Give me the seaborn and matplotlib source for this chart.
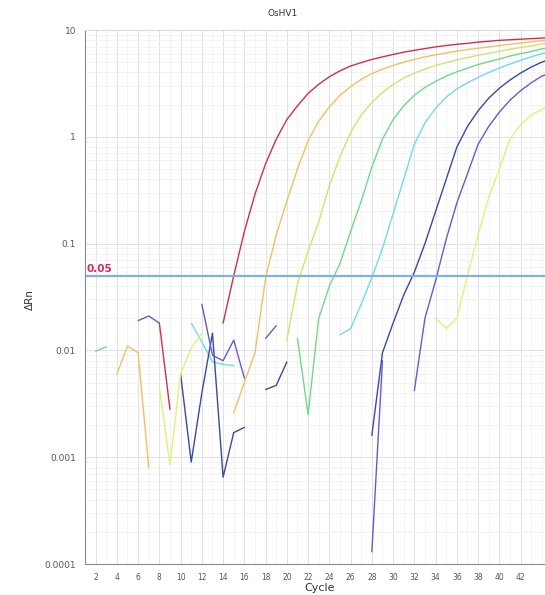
import matplotlib
matplotlib.use("Agg")
import matplotlib.pyplot as plt
from matplotlib.ticker import MultipleLocator, LogLocator, NullFormatter
import pandas as pd
import seaborn as sns

# (cycle, dRn) pairs; negative values are not shown on a log axis,
# so only the visible pieces of each trace are listed
red = [(8, .018), (9, .0028), (14, .018), (15, .05), (16, .13), (17, .29), (18, .56),
       (19, .95), (20, 1.45), (21, 1.95), (22, 2.55), (23, 3.1), (24, 3.65), (25, 4.15),
       (26, 4.6), (27, 4.95), (28, 5.3), (29, 5.6), (30, 5.9), (31, 6.2), (32, 6.45),
       (33, 6.7), (34, 6.95), (35, 7.15), (36, 7.35), (37, 7.5), (38, 7.7), (39, 7.85),
       (40, 8.0), (41, 8.1), (42, 8.2), (43, 8.3), (44, 8.4), (45, 8.45)]
orange = [(4, .006), (5, .011), (6, .0095), (7, .0008), (15, .0026), (16, .005), (17, .0095),
          (18, .048), (19, .12), (20, .25), (21, .5), (22, .92), (23, 1.4), (24, 1.9),
          (25, 2.45), (26, 2.95), (27, 3.45), (28, 3.9), (29, 4.3), (30, 4.65), (31, 5.0),
          (32, 5.3), (33, 5.6), (34, 5.85), (35, 6.1), (36, 6.35), (37, 6.55), (38, 6.75),
          (39, 6.95), (40, 7.15), (41, 7.35), (42, 7.55), (43, 7.75), (44, 7.95), (45, 8.05)]
yellowgreen = [(20, .0125), (21, .042), (22, .085), (23, .16), (24, .35), (25, .65), (26, 1.1),
               (27, 1.6), (28, 2.1), (29, 2.6), (30, 3.1), (31, 3.55), (32, 3.95), (33, 4.3),
               (34, 4.65), (35, 4.95), (36, 5.25), (37, 5.5), (38, 5.8), (39, 6.05), (40, 6.3),
               (41, 6.6), (42, 6.85), (43, 7.1), (44, 7.4), (45, 7.5)]
green = [(2, .0098), (3, .0108), (21, .013), (22, .0025), (23, .02), (24, .04), (25, .065),
         (26, .13), (27, .25), (28, .52), (29, .95), (30, 1.45), (31, 1.95), (32, 2.45),
         (33, 2.9), (34, 3.3), (35, 3.7), (36, 4.05), (37, 4.4), (38, 4.75), (39, 5.05),
         (40, 5.35), (41, 5.7), (42, 6.0), (43, 6.3), (44, 6.65), (45, 6.9)]
cyan = [(11, .018), (12, .012), (13, .0078), (14, .0074), (15, .0072), (25, .014), (26, .016),
        (27, .027), (28, .048), (29, .09), (30, .19), (31, .4), (32, .85), (33, 1.35),
        (34, 1.85), (35, 2.35), (36, 2.8), (37, 3.2), (38, 3.6), (39, 4.0), (40, 4.4),
        (41, 4.8), (42, 5.2), (43, 5.6), (44, 6.0), (45, 6.2)]
blue = [(10, .006), (11, .0009), (12, .004), (13, .0145), (14, .00065), (15, .0017), (16, .0019),
        (18, .0043), (19, .0047), (20, .0078), (28, .0016), (29, .0095), (30, .018), (31, .033),
        (32, .054), (33, .1), (34, .2), (35, .4), (36, .8), (37, 1.25), (38, 1.75), (39, 2.3),
        (40, 2.85), (41, 3.4), (42, 3.95), (43, 4.5), (44, 5.0), (45, 5.4)]
purple = [(6, .019), (7, .021), (8, .018), (12, .027), (13, .009), (14, .008), (15, .0125),
          (16, .0055), (18, .013), (19, .017), (28, .00013), (29, .008), (32, .0042), (33, .02),
          (34, .045), (35, .11), (36, .24), (37, .45), (38, .85), (39, 1.25), (40, 1.7),
          (41, 2.2), (42, 2.7), (43, 3.2), (44, 3.7), (45, 4.0)]
yellow = [(8, .0045), (9, .00085), (10, .006), (11, .0105), (12, .0145), (34, .02), (35, .016),
          (36, .02), (37, .05), (38, .12), (39, .27), (40, .5), (41, .95), (42, 1.3), (43, 1.6),
          (44, 1.8), (45, 2.0)]

curves = {"red": red, "orange": orange, "yellowgreen": yellowgreen, "green": green,
          "cyan": cyan, "blue": blue, "purple": purple, "yellow": yellow}
colors = {"red": "#cf3046", "orange": "#f3bf62", "yellowgreen": "#cde66a", "green": "#6fd98a",
          "cyan": "#6fdbe8", "blue": "#3848a8", "purple": "#6a58cf", "yellow": "#e6ef78"}

threshold = 0.05

# split every trace into runs of consecutive cycles so gaps stay open
rows = []
for name, pts in curves.items():
    seg = 0
    prev = None
    for c, v in pts:
        if prev is not None and c != prev + 1:
            seg += 1
        rows.append((name, seg, c, v))
        prev = c
df = pd.DataFrame(rows, columns=["curve", "seg", "cycle", "dRn"])

sns.set_style("white")
plt.rcParams["font.family"] = ["DejaVu Sans"]

fig = plt.figure(figsize=(5.45, 5.95), dpi=100)
ax = fig.add_axes([85 / 545, 31 / 595, 1 - 85 / 545, 534 / 595])
ax.set_yscale("log")

ax.xaxis.set_minor_locator(MultipleLocator(1))
ax.yaxis.set_minor_locator(LogLocator(base=10, subs=range(2, 10)))
ax.yaxis.set_minor_formatter(NullFormatter())
ax.grid(which="major", color="#e2e2e2", lw=0.7)
ax.grid(which="minor", color="#f1f1f1", lw=0.6)
ax.set_axisbelow(True)

sns.lineplot(data=df, x="cycle", y="dRn", hue="curve", units="seg", estimator=None,
             palette=colors, legend=False, lw=1.0, ax=ax)

ax.axhline(threshold, color="#7fb2df", lw=1.6)
ax.text(1.15, threshold * 1.04, "0.05", color="#e0245e", fontsize=7.5, fontweight="bold",
        va="bottom", ha="left")

ax.set_xlim(1, 44.3)
ax.set_ylim(1e-4, 10)
ax.set_xticks(range(2, 43, 2))
ax.set_yticks([1e-4, 1e-3, 1e-2, 1e-1, 1, 10])
ax.set_yticklabels(["0.0001", "0.001", "0.01", "0.1", "1", "10"])
ax.tick_params(which="major", labelsize=6.5, colors="#555555", length=3, width=0.6)
ax.tick_params(axis="x", labelsize=5.5)
ax.tick_params(which="minor", length=0)
ax.set_xlabel("")
ax.set_ylabel("")

for s in ["left", "bottom"]:
    ax.spines[s].set_color("#8a8a8a")
    ax.spines[s].set_linewidth(0.8)
ax.spines["top"].set_color("#dddddd")
ax.spines["right"].set_visible(False)

fig.text(283 / 545, 1 - 13 / 595, "OsHV1", ha="center", va="center", fontsize=6.5, color="#333333")
fig.text(30 / 545, 1 - 300 / 595, "ΔRn", ha="center", va="center", rotation=90, fontsize=7.5,
         color="#333333")
fig.text(320 / 545, 1 - 588 / 595, "Cycle", ha="center", va="center", fontsize=8, color="#333333")

fig.savefig("out.png", dpi=100)
